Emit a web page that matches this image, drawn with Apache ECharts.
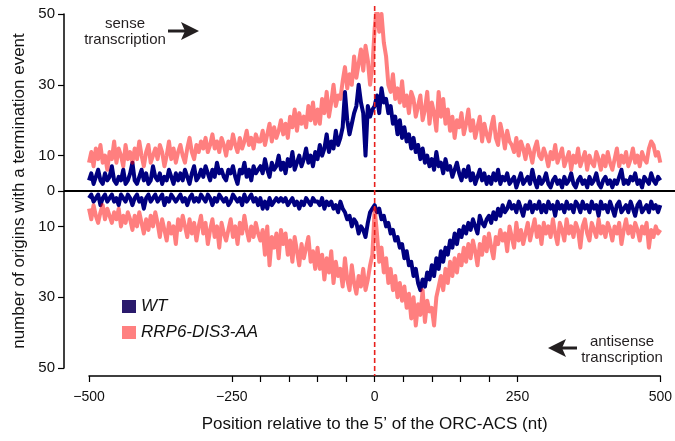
<!DOCTYPE html>
<html>
<head>
<meta charset="utf-8">
<script src="https://cdn.jsdelivr.net/npm/echarts@6/dist/echarts.min.js"></script>
<style>
  html, body { margin: 0; padding: 0; background: #fff; }
  #chart { width: 675px; height: 441px; }
</style>
</head>
<body>
<div id="chart"></div>
<script>
// termination events per position, one value every 4 nt from -500 to 500
const wtSense = [
  3, 5, 2, 4, 6, 3, 2, 5, 3, 4, 7, 3, 2, 4, 3, 6, 2, 3, 5, 8, 3, 2, 4, 6, 3,
  5, 2, 3, 7, 4, 3, 5, 2, 4, 3, 6, 4, 2, 5, 3, 5, 3, 6, 4, 2, 5, 7, 3, 4, 6,
  4, 7, 5, 3, 6, 4, 8, 5, 6, 4, 3, 6, 5, 7, 4, 2, 6, 5, 8, 4, 6, 3, 7, 5, 6,
  7, 5, 9, 6, 4, 8, 6, 7, 10, 6, 8, 5, 9, 7, 11, 6, 8, 10, 7, 9, 12, 8, 10, 7, 11,
  9, 13, 10, 12, 16, 11, 14, 12, 17, 13, 15, 18, 28, 20, 16, 19, 22, 24, 30, 25, 22, 10, 24, 21, 23,
  24, 27, 22, 29, 25, 26, 22, 24, 19, 21, 16, 20, 15, 18, 14, 16, 12, 15, 11, 13, 9, 12, 8, 10, 7,
  9, 6, 11, 7, 8, 5, 9, 6, 7, 4, 6, 8, 5, 3, 6, 4, 7, 3, 5, 2, 4, 6, 3, 5, 2,
  4, 2, 5, 3, 6, 2, 4, 3, 5, 2, 3, 4, 1, 3, 5, 2, 3, 4, 2, 6, 3, 1, 4, 2, 3,
  5, 2, 1, 3, 4, 2, 3, 1, 4, 2, 3, 5, 2, 1, 3, 4, 2, 3, 1, 4, 2, 3, 5, 2, 1,
  3, 4, 2, 3, 1, 3, 2, 4, 6, 2, 3, 2, 4, 3, 5, 2, 3, 1, 4, 3, 2, 5, 3, 2, 4,
  3
];
const wtAntisense = [
  2, 1, 3, 2, 1, 4, 2, 1, 3, 2, 1, 3, 2, 4, 1, 2, 3, 1, 2, 4, 2, 1, 3, 2, 5,
  2, 1, 3, 2, 1, 3, 2, 1, 4, 2, 3, 1, 2, 3, 2, 1, 3, 2, 4, 2, 1, 3, 2, 3, 1,
  2, 3, 1, 2, 4, 2, 3, 1, 2, 3, 2, 4, 3, 1, 2, 3, 2, 4, 1, 3, 2, 1, 3, 2, 4,
  2, 5, 3, 5, 2, 4, 3, 2, 3, 2, 3, 2, 4, 3, 2, 4, 3, 5, 3, 4, 2, 3, 4, 2, 3,
  3, 4, 2, 5, 3, 4, 3, 5, 4, 6, 3, 5, 6, 8, 7, 10, 8, 9, 12, 10, 11, 13, 9, 6, 5,
  4, 6, 5, 8, 7, 10, 9, 12, 11, 14, 13, 16, 15, 19, 17, 21, 20, 24, 22, 26, 28, 25, 27, 23, 25,
  21, 24, 19, 22, 17, 20, 16, 18, 14, 16, 12, 15, 11, 13, 10, 12, 9, 11, 8, 10, 12, 7, 9, 10, 8,
  7, 9, 6, 8, 5, 7, 4, 6, 5, 3, 5, 4, 6, 3, 5, 7, 4, 5, 3, 6, 4, 5, 3, 6, 4,
  6, 3, 5, 4, 7, 3, 5, 4, 6, 3, 5, 4, 6, 3, 4, 6, 3, 5, 4, 6, 3, 5, 4, 7, 3,
  5, 4, 6, 3, 5, 7, 4, 3, 6, 5, 4, 6, 3, 5, 7, 4, 3, 6, 5, 4, 6, 3, 5, 4, 6,
  4
];
const rrpSense = [
  8, 11, 7, 12, 9, 13, 8, 10, 6, 11, 9, 14, 8, 12, 10, 7, 13, 9, 11, 8, 12, 9, 14, 10, 7,
  11, 13, 8, 10, 12, 9, 13, 11, 7, 10, 14, 9, 12, 8, 11, 13, 10, 8, 12, 15, 11, 9, 13, 11, 14,
  12, 15, 11, 13, 16, 12, 14, 11, 15, 13, 10, 14, 12, 16, 13, 11, 15, 12, 14, 17, 13, 15, 12, 16, 14,
  14, 17, 13, 16, 19, 14, 18, 15, 17, 20, 16, 19, 15, 21, 18, 23, 17, 22, 19, 21, 18, 24, 20, 25, 19,
  23, 19, 26, 22, 28, 21, 25, 30, 24, 27, 26, 31, 35, 29, 33, 30, 38, 32, 36, 40, 34, 41, 37, 30, 35,
  46, 52, 45, 50, 42, 38, 30, 28, 33, 26, 29, 25, 31, 24, 27, 22, 28, 26, 21, 24, 27, 20, 23, 28, 19,
  25, 22, 17, 28, 21, 26, 19, 23, 17, 21, 15, 20, 18, 22, 16, 19, 23, 17, 20, 15, 18, 21, 14, 19, 16,
  14, 18, 21, 15, 13, 19, 16, 12, 17, 14, 13, 11, 15, 10, 14, 12, 9, 13, 11, 8, 12, 14, 10, 9, 12,
  10, 7, 11, 9, 13, 8, 10, 12, 7, 9, 11, 6, 10, 8, 12, 7, 9, 11, 6, 10, 8, 7, 11, 9, 6,
  10, 7, 11, 8, 6, 9, 12, 7, 10, 8, 11, 7, 9, 12, 8, 10, 7, 11, 9, 8, 12, 14, 13, 10, 11,
  8
];
const rrpAntisense = [
  5, 8, 4, 7, 9, 6, 4, 8, 5, 7, 9, 6, 8, 5, 10, 7, 9, 6, 8, 11, 7, 10, 6, 9, 12,
  8, 11, 7, 10, 6, 9, 13, 8, 11, 14, 9, 12, 10, 15, 8, 11, 7, 10, 13, 8, 12, 9, 14, 10, 7,
  12, 9, 15, 11, 8, 13, 10, 16, 9, 12, 14, 11, 8, 13, 10, 15, 9, 12, 7, 11, 14, 10, 13, 9, 12,
  14, 11, 18, 10, 21, 13, 16, 12, 19, 11, 15, 12, 18, 14, 20, 13, 17, 21, 15, 19, 16, 13, 20, 17, 22,
  16, 22, 18, 25, 19, 23, 17, 26, 20, 24, 22, 27, 19, 25, 28, 21, 26, 29, 24, 27, 22, 28, 25, 21, 18,
  5, 12, 20, 16, 23, 19, 26, 22, 28, 24, 30, 26, 31, 27, 33, 29, 36, 30, 38, 32, 35, 28, 37, 31, 34,
  33, 38, 30, 27, 24, 28, 22, 26, 20, 24, 19, 23, 18, 21, 16, 20, 15, 19, 14, 17, 21, 15, 18, 13, 17,
  12, 16, 19, 13, 15, 11, 14, 12, 17, 10, 13, 16, 9, 14, 11, 15, 12, 9, 14, 11, 8, 13, 10, 15, 9,
  12, 10, 13, 8, 12, 15, 9, 11, 14, 8, 12, 10, 13, 9, 11, 16, 10, 8, 12, 14, 9, 11, 13, 8, 12,
  10, 13, 9, 11, 14, 10, 12, 9, 15, 11, 8, 12, 10, 13, 9, 11, 14, 10, 12, 9, 16, 11, 13, 10, 12,
  11
];
const positions = wtSense.map((v, i) => -500 + i * 4);
const xLabelValues = [-500, -250, 0, 250, 500];
const xTickValues = [-500, -250, -200, -150, -100, -50, 0, 50, 100, 150, 200, 250, 500];
const yTickValues = [-50, -30, -10, 0, 10, 30, 50];

const FONT = 'Liberation Sans';
const chart = echarts.init(document.getElementById('chart'));

function line(name, values, sign, color) {
  return {
    type: 'line',
    name: name,
    data: positions.map((x, i) => [x, sign * values[i]]),
    showSymbol: false,
    lineStyle: { color: color, width: 4, join: 'round' },
    itemStyle: { color: color },
    animation: false,
    silent: true
  };
}

chart.setOption({
  animation: false,
  grid: { left: 89, right: 14, top: 14, bottom: 73 },
  legend: {
    orient: 'vertical',
    left: 117,
    top: 293,
    itemWidth: 14,
    itemHeight: 13,
    itemGap: 9,
    icon: 'rect',
    textStyle: { fontFamily: FONT, fontSize: 17, fontStyle: 'italic', color: '#111' },
    data: [
      { name: 'WT', itemStyle: { color: '#2a1a6c' } },
      { name: 'RRP6-DIS3-AA', itemStyle: { color: '#ff8080' } }
    ]
  },
  xAxis: {
    type: 'value',
    min: -500,
    max: 500,
    offset: 8,
    name: 'Position relative to the 5\u2019 of the ORC-ACS (nt)',
    nameLocation: 'middle',
    nameGap: 40,
    nameTextStyle: { fontFamily: FONT, fontSize: 17, color: '#111' },
    axisLine: { onZero: false, lineStyle: { color: '#000', width: 1.5 } },
    axisTick: { customValues: xTickValues, length: 6, lineStyle: { color: '#000', width: 1.2 } },
    axisLabel: {
      customValues: xLabelValues,
      margin: 14,
      fontFamily: FONT,
      fontSize: 14,
      color: '#111',
      formatter: v => (v < 0 ? '\u2212' + Math.abs(v) : String(v))
    },
    splitLine: { show: false }
  },
  yAxis: {
    type: 'value',
    min: -50,
    max: 50,
    offset: 25,
    name: 'number of origins with a termination event',
    nameLocation: 'middle',
    nameGap: 36,
    nameTextStyle: { fontFamily: FONT, fontSize: 17, color: '#111' },
    axisLine: { show: true, onZero: false, lineStyle: { color: '#000', width: 1.5 } },
    axisTick: { show: true, customValues: yTickValues, length: 6, lineStyle: { color: '#000', width: 1.2 } },
    axisLabel: {
      customValues: yTickValues,
      margin: 9,
      fontFamily: FONT,
      fontSize: 15,
      color: '#111',
      formatter: v => String(Math.abs(v))
    },
    splitLine: { show: false }
  },
  series: [
    line('WT', wtSense, 1, '#000080'),
    line('WT', wtAntisense, -1, '#000080'),
    line('RRP6-DIS3-AA', rrpSense, 1, 'rgba(255,0,0,0.5)'),
    line('RRP6-DIS3-AA', rrpAntisense, -1, 'rgba(255,0,0,0.5)')
  ]
});

// zero line, dashed ORC-ACS marker and the direction notes
const y0 = chart.convertToPixel({ yAxisIndex: 0 }, 0);
const x0 = chart.convertToPixel({ xAxisIndex: 0 }, 0);
const textStyle = { fontFamily: FONT, fontSize: 15, fill: '#231f20', align: 'center', verticalAlign: 'middle' };
chart.setOption({
  graphic: [
    { type: 'line', shape: { x1: 64, y1: y0, x2: 675, y2: y0 }, style: { stroke: '#000', lineWidth: 2 }, z: 10 },
    { type: 'line', shape: { x1: x0, y1: 6, x2: x0, y2: 376 }, style: { stroke: '#e8201c', lineWidth: 1.6, lineDash: [5, 3] }, z: 11 },
    { type: 'text', x: 125, y: 24, style: Object.assign({ text: 'sense' }, textStyle) },
    { type: 'text', x: 125, y: 40, style: Object.assign({ text: 'transcription' }, textStyle) },
    { type: 'line', shape: { x1: 168, y1: 31, x2: 186, y2: 31 }, style: { stroke: '#231f20', lineWidth: 3 } },
    { type: 'polygon', shape: { points: [[199, 31], [181, 22], [185, 31], [181, 40]] }, style: { fill: '#231f20' } },
    { type: 'text', x: 622, y: 342, style: Object.assign({ text: 'antisense' }, textStyle) },
    { type: 'text', x: 622, y: 358, style: Object.assign({ text: 'transcription' }, textStyle) },
    { type: 'line', shape: { x1: 577, y1: 348, x2: 560, y2: 348 }, style: { stroke: '#231f20', lineWidth: 3 } },
    { type: 'polygon', shape: { points: [[548, 348], [566, 339], [562, 348], [566, 357]] }, style: { fill: '#231f20' } }
  ]
});
</script>
</body>
</html>
